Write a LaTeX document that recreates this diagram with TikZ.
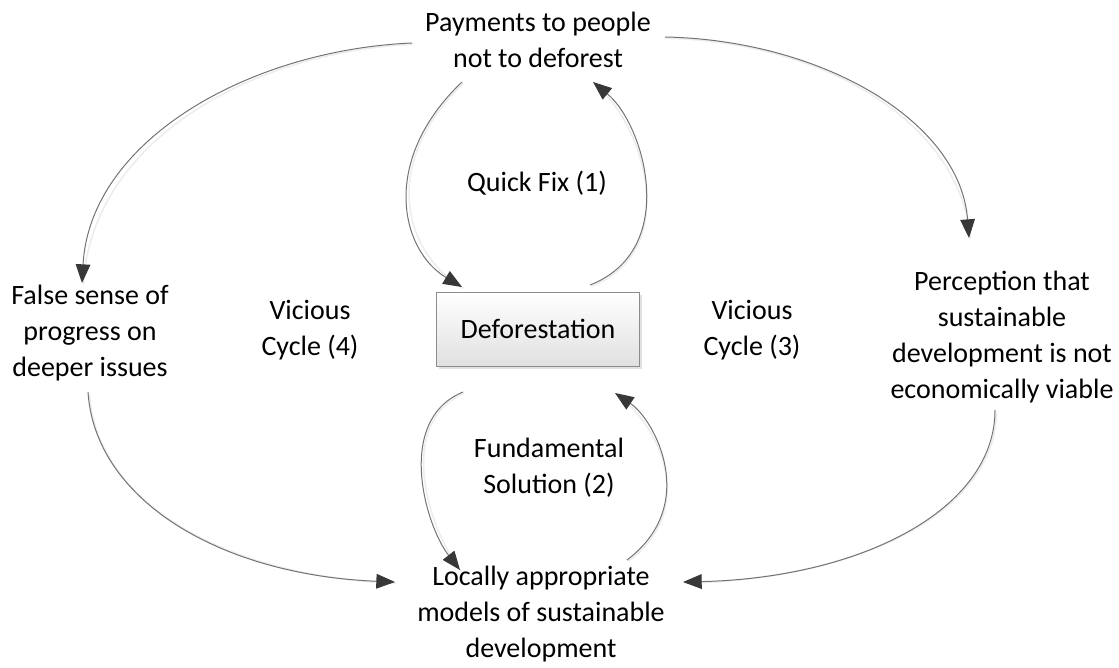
\documentclass[tikz,border=0pt]{standalone}
\usepackage{fontspec}
\setmainfont{Carlito}
\usetikzlibrary{arrows.meta,shadows}
\begin{document}
\begin{tikzpicture}[x=0.75pt,y=-0.75pt,
  label/.style={align=center,font=\fontsize{21}{27}\selectfont,inner sep=0pt},
  link/.style={draw=black!55,line width=0.75pt,
    -{Triangle[length=14pt,width=11pt,color=black!78,fill=black!78]},
    preaction={draw=black!7,line width=1.2pt,-,transform canvas={shift={(1pt,-1pt)}}}},
  boxnode/.style={draw=black!45,line width=0.6pt,top color=white,bottom color=black!12,
    minimum width=152pt,minimum height=55.5pt,
    drop shadow={shadow xshift=2pt,shadow yshift=-2pt,fill=black!15,opacity=0.8}}]
\useasboundingbox (0,0) rectangle (1119,667);

% text elements
\node[label] (pay)   at (538,40)  {Payments to people\\not to deforest};
\node[label] (quick) at (537,183) {Quick Fix (1)};
\node[boxnode,label] (def) at (538,329) {Deforestation};
\node[label] (vic4)  at (310,330) {Vicious\\Cycle (4)};
\node[label] (vic3)  at (752,330) {Vicious\\Cycle (3)};
\node[label] (false) at (90,333)  {False sense of\\progress on\\deeper issues};
\node[label] (perc)  at (1002,337) {Perception that\\sustainable\\development is not\\economically viable};
\node[label] (fund)  at (549,468) {Fundamental\\Solution (2)};
\node[label] (local) at (541,614) {Locally appropriate\\models of sustainable\\development};

% connector ends
\coordinate (payL)  at (412,43);
\coordinate (payR)  at (665,37);
\coordinate (payBL) at (462,82);
\coordinate (payBR) at (593,82);
\coordinate (defTL) at (462,287);
\coordinate (defTR) at (590,285);
\coordinate (defBL) at (463,392);
\coordinate (defBR) at (615,393);
\coordinate (locTL) at (460,570);
\coordinate (locTR) at (627,560);
\coordinate (locL)  at (395,582);
\coordinate (locR)  at (683,582);
\coordinate (falseT) at (82,283);
\coordinate (falseB) at (88,392);
\coordinate (percT) at (969,238);
\coordinate (percB) at (995,410);

% quick fix loop
\draw[link] (payBL) .. controls (380,160) and (400,250) .. (defTL);
\draw[link] (defTR) .. controls (680,250) and (645,125) .. (payBR);
% fundamental solution loop
\draw[link] (defBL) .. controls (395,420) and (425,525) .. (locTL);
\draw[link] (locTR) .. controls (700,505) and (655,420) .. (defBR);
% vicious cycles
\draw[link] (payL) .. controls (250,50) and (90,140) .. (falseT);
\draw[link] (falseB) .. controls (95,500) and (220,575) .. (locL);
\draw[link] (payR) .. controls (820,40) and (960,120) .. (percT);
\draw[link] (percB) .. controls (995,510) and (860,578) .. (locR);
\end{tikzpicture}
\end{document}
